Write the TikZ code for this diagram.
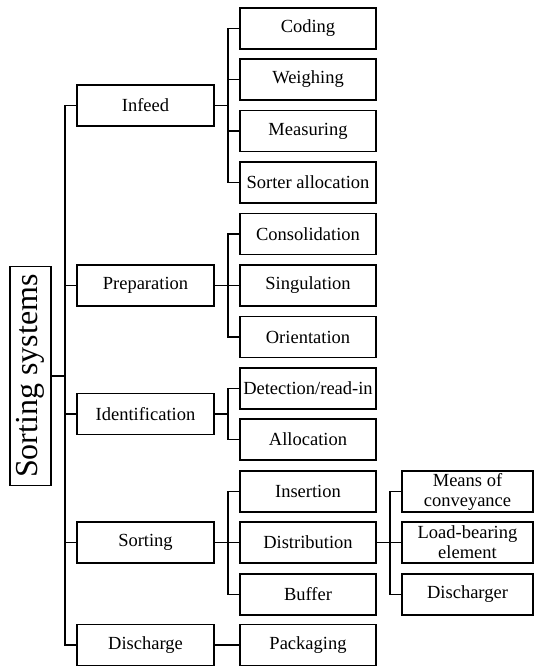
\documentclass[tikz,border=0pt]{standalone}
\usepackage{fontspec}
\setmainfont{Liberation Serif}
\usetikzlibrary{positioning}

\tikzset{
    box/.style={draw, line width=1.5pt, inner sep=0pt, minimum height=41pt,
        align=center, font=\fontsize{18.5}{20}\selectfont},
    lvlone/.style={box, minimum width=137pt},
    lvltwo/.style={box, minimum width=136pt},
    lvlthree/.style={box, minimum width=131pt},
    link/.style={line width=1.5pt}
}

\begin{document}
\begin{tikzpicture}[x=1pt, y=-1pt]
    \useasboundingbox (0, 0) rectangle (534, 666);
    % root
    \node[box, rotate=90, minimum width=219pt, font=\fontsize{32}{32}\selectfont] (root) at (30.5, 376) {Sorting systems};
    % first level
    \node[lvlone] (infeed) at (145.5, 105.5) {Infeed};
    \node[lvlone] (prep) at (145.5, 285.5) {Preparation};
    \node[lvlone] (ident) at (145.5, 414) {Identification};
    \node[lvlone] (sort) at (145.5, 542.5) {Sorting};
    \node[lvlone] (disch) at (145.5, 645) {Discharge};
    % second level
    \node[lvltwo] (coding) at (308, 28.5) {Coding};
    \node[lvltwo] (weigh) at (308, 79.5) {Weighing};
    \node[lvltwo] (meas) at (308, 131) {Measuring};
    \node[lvltwo] (salloc) at (308, 182.5) {Sorter allocation};
    \node[lvltwo] (consol) at (308, 234) {Consolidation};
    \node[lvltwo] (singul) at (308, 285.5) {Singulation};
    \node[lvltwo] (orient) at (308, 337) {Orientation};
    \node[lvltwo] (detect) at (308, 388.5) {Detection/read-in};
    \node[lvltwo] (alloc) at (308, 439.5) {Allocation};
    \node[lvltwo] (insert) at (308, 491.5) {Insertion};
    \node[lvltwo] (distr) at (308, 542.5) {Distribution};
    \node[lvltwo] (buffer) at (308, 594.5) {Buffer};
    \node[lvltwo] (pack) at (308, 645) {Packaging};
    % third level
    \node[lvlthree] (means) at (467.5, 491.5) {Means of\\conveyance};
    \node[lvlthree] (load) at (467.5, 542.5) {Load-bearing\\element};
    \node[lvlthree] (discharger) at (467.5, 594.5) {Discharger};
    \draw[link]
    (root.south) -- ++(13, 0)
    (root.south) ++(13, 0) |- (infeed.west) (root.south) ++(13, 0) |- (prep.west)
    (root.south) ++(13, 0) |- (ident.west) (root.south) ++(13, 0) |- (sort.west)
    (root.south) ++(13, 0) |- (disch.west)
    (infeed.east) -- ++(13, 0) |- (coding.west) (infeed.east) -- ++(13, 0) |- (weigh.west)
    (infeed.east) -- ++(13, 0) |- (meas.west) (infeed.east) -- ++(13, 0) |- (salloc.west)
    (prep.east) -- ++(13, 0) |- (consol.west) (prep.east) -- ++(13, 0) |- (singul.west)
    (prep.east) -- ++(13, 0) |- (orient.west)
    (ident.east) -- ++(13, 0) |- (detect.west) (ident.east) -- ++(13, 0) |- (alloc.west)
    (sort.east) -- ++(13, 0) |- (insert.west) (sort.east) -- ++(13, 0) |- (distr.west)
    (sort.east) -- ++(13, 0) |- (buffer.west)
    (disch.east) -- (pack.west)
    (distr.east) -- ++(13, 0) |- (means.west) (distr.east) -- ++(13, 0) |- (load.west)
    (distr.east) -- ++(13, 0) |- (discharger.west);
\end{tikzpicture}
\end{document}
